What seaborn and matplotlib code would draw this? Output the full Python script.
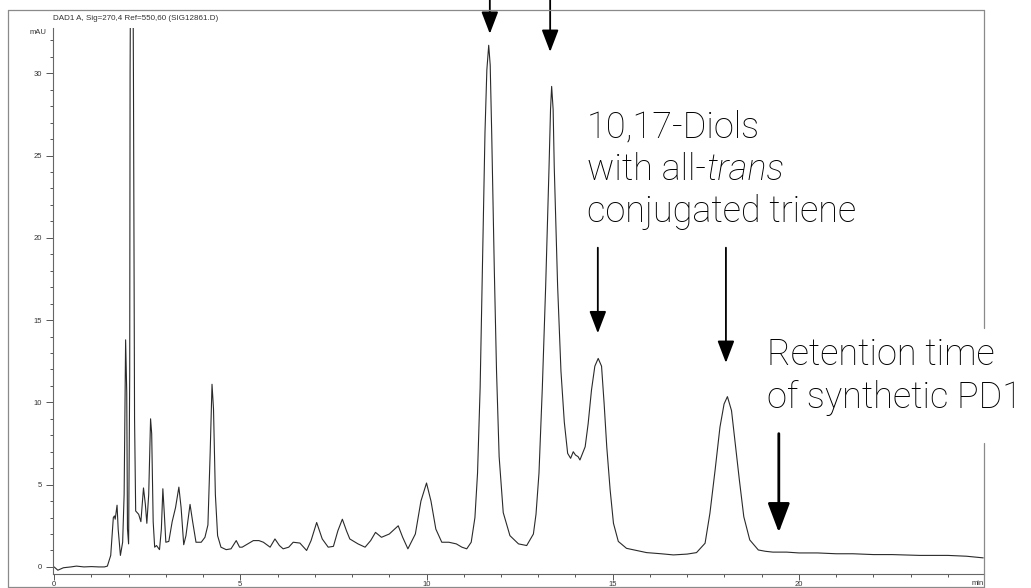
import numpy as np
import pandas as pd
import matplotlib
matplotlib.use("Agg")
import matplotlib.pyplot as plt
from matplotlib.ticker import MultipleLocator
from matplotlib.lines import Line2D
import seaborn as sns

# chromatogram trace (min, mAU)
time_min = [0.00, 0.10, 0.25, 0.45, 0.60, 0.80, 1.00, 1.20, 1.35, 1.43, 1.52, 1.59, 1.62, 1.64, 1.69,
            1.72, 1.78, 1.84, 1.88, 1.92, 1.95, 1.97, 2.00, 2.03, 2.04, 2.06, 2.11, 2.13, 2.16, 2.19,
            2.23, 2.27, 2.33, 2.40, 2.45, 2.49, 2.54, 2.59, 2.62, 2.66, 2.70, 2.75, 2.83, 2.88, 2.92,
            2.96, 3.00, 3.08, 3.17, 3.26, 3.35, 3.41, 3.48, 3.54, 3.65, 3.72, 3.81, 3.95, 4.05, 4.13,
            4.19, 4.24, 4.28, 4.33, 4.39, 4.48, 4.62, 4.75, 4.89, 4.98, 5.05, 5.20, 5.35, 5.50, 5.62,
            5.80, 5.93, 6.05, 6.15, 6.30, 6.42, 6.60, 6.78, 6.90, 7.05, 7.20, 7.36, 7.50, 7.62, 7.74,
            7.85, 7.94, 8.16, 8.35, 8.50, 8.63, 8.79, 9.00, 9.24, 9.36, 9.50, 9.70, 9.85, 10.00, 10.12,
            10.25, 10.41, 10.60, 10.80, 10.95, 11.08, 11.20, 11.30, 11.37, 11.44, 11.50, 11.57, 11.62, 11.67, 11.71,
            11.75, 11.82, 11.88, 11.95, 12.06, 12.24, 12.47, 12.69, 12.87, 12.94, 13.02, 13.11, 13.20, 13.29, 13.33,
            13.36, 13.40, 13.43, 13.52, 13.61, 13.70, 13.79, 13.87, 13.94, 14.00, 14.07, 14.12, 14.26, 14.34, 14.43,
            14.52, 14.61, 14.70, 14.77, 14.84, 14.93, 15.02, 15.15, 15.37, 15.91, 16.30, 16.63, 17.00, 17.25, 17.48,
            17.61, 17.75, 17.88, 17.99, 18.08, 18.19, 18.28, 18.40, 18.52, 18.68, 18.91, 19.10, 19.30, 19.67, 20.00,
            20.50, 21.00, 21.45, 22.00, 22.50, 23.25, 24.00, 24.50, 24.95]
signal_mau = [0.0, -0.2, -0.05, 0.0, 0.05, 0.0, 0.02, 0.0, 0.0, 0.05, 0.7, 3.0, 3.1, 2.9, 3.75,
              2.3, 0.7, 1.5, 4.4, 13.8, 10.6, 2.3, 1.4, 11.7, 30.0, 40.0, 40.0, 30.0, 9.0, 3.4,
              3.3, 3.2, 2.75, 4.8, 3.8, 2.65, 4.4, 9.0, 8.1, 2.75, 1.2, 1.3, 1.05, 2.3, 4.75,
              3.2, 1.5, 1.55, 2.75, 3.6, 4.85, 3.6, 1.35, 1.9, 3.8, 2.75, 1.5, 1.5, 1.8, 2.55,
              6.9, 11.1, 9.6, 4.4, 1.9, 1.2, 1.05, 1.1, 1.6, 1.2, 1.2, 1.4, 1.6, 1.6, 1.5,
              1.2, 1.7, 1.3, 1.1, 1.2, 1.5, 1.45, 1.0, 1.6, 2.7, 1.7, 1.2, 1.25, 2.2, 2.9,
              2.2, 1.7, 1.4, 1.2, 1.6, 2.1, 1.8, 2.0, 2.5, 1.8, 1.1, 2.0, 4.0, 5.1, 4.0,
              2.3, 1.5, 1.5, 1.4, 1.2, 1.1, 1.5, 3.0, 5.7, 10.9, 18.1, 26.4, 30.2, 31.7, 30.5,
              26.4, 18.1, 11.9, 6.7, 3.3, 1.9, 1.4, 1.3, 2.0, 3.2, 5.7, 10.9, 17.1, 24.3, 27.8,
              29.2, 27.8, 24.3, 17.1, 11.9, 8.8, 6.9, 6.6, 7.0, 6.8, 6.7, 6.5, 7.3, 8.7, 10.75,
              12.2, 12.67, 12.2, 9.9, 7.3, 4.7, 2.65, 1.55, 1.13, 0.87, 0.8, 0.73, 0.78, 0.87, 1.44,
              3.26, 5.9, 8.5, 9.9, 10.35, 9.5, 7.7, 5.3, 3.05, 1.64, 1.03, 0.95, 0.9, 0.9, 0.85,
              0.85, 0.8, 0.8, 0.75, 0.75, 0.7, 0.7, 0.65, 0.55]

# arrows: x (min), tip and tail (mAU)
arrow_t = [11.70, 13.32, 14.60, 18.04, 19.46]
arrow_tip = [32.4, 31.3, 14.2, 12.4, 2.1]
arrow_tail = [34.8, 34.8, 19.4, 19.4, 8.1]

x_ticks = [0, 5, 10, 15, 20]
y_ticks = [0, 5, 10, 15, 20, 25, 30]

df = pd.DataFrame({"t": time_min, "mau": signal_mau})

sns.set_style("ticks")
plt.rcParams["font.family"] = ["Liberation Sans", "DejaVu Sans"]

W, H = 1031, 588
fig = plt.figure(figsize=(W / 100, H / 100), dpi=100)
ax = fig.add_axes([53 / W, 14 / H, 931 / W, 546 / H])

sns.lineplot(data=df, x="t", y="mau", ax=ax, color="#2a2a2a", linewidth=0.8, sort=False)

ax.set_xlim(-0.03, 24.97)
ax.set_ylim(-0.43, 32.75)
ax.set_xticks(x_ticks)
ax.set_yticks(y_ticks)
ax.xaxis.set_minor_locator(MultipleLocator(1))
ax.yaxis.set_minor_locator(MultipleLocator(1))
ax.tick_params(axis="both", which="both", direction="out", color="#555555",
               labelsize=5.5, labelcolor="#333333", width=0.7)
ax.tick_params(axis="x", which="major", length=4.5, pad=0.5)
ax.tick_params(axis="x", which="minor", length=2.5)
ax.tick_params(axis="y", which="major", length=5, pad=3)
ax.tick_params(axis="y", which="minor", length=2)
sns.despine(ax=ax, top=True, right=True)
for s in ["left", "bottom"]:
    ax.spines[s].set_color("#666666")
    ax.spines[s].set_linewidth(0.8)

ax.set_xlabel("min", fontsize=5.5, color="#333333", va="center", ha="center")
ax.xaxis.set_label_coords(0.9936, -0.0165)
ax.set_ylabel("mAU", fontsize=5.5, color="#333333", rotation=0, va="center", ha="right")
ax.yaxis.set_label_coords(-0.007, 0.992)
ax.set_title("DAD1 A, Sig=270,4 Ref=550,60 (SIG12861.D)", loc="left", fontsize=5.8,
             color="#333333", pad=6)

# outer frame of the instrument printout (right side broken by the label)
fc = "#8a8a8a"
frame = [((8, 8), (1, 578)), ((8, 984), (578, 578)), ((8, 984), (1, 1)),
         ((984, 984), (578, 260)), ((984, 984), (145, 1))]
for xs, ys in frame:
    fig.add_artist(Line2D([xs[0] / W, xs[1] / W], [ys[0] / H, ys[1] / H],
                          transform=fig.transFigure, color=fc, lw=0.9))

for i, (t, tip, tail) in enumerate(zip(arrow_t, arrow_tip, arrow_tail)):
    big = i == 4
    style = "-|>,head_length=0.9,head_width=0.34" if big else "-|>,head_length=0.68,head_width=0.26"
    ax.annotate("", xy=(t, tip), xytext=(t, tail), annotation_clip=False,
                arrowprops=dict(arrowstyle=style, mutation_scale=20, color="black",
                                lw=2.0 if big else 1.3, shrinkA=0, shrinkB=0))

lbl = dict(fontsize=26, family=["Roboto", "DejaVu Sans"], fontweight="light",
           color="black", va="baseline", ha="left")
ax.text(14.31, 26.1, "10,17-Diols", **lbl)
t2 = ax.text(14.31, 23.5, "with all-", **lbl)
ax.annotate("trans", xy=(1, 0), xycoords=t2, va="bottom", ha="left", fontsize=26,
            family=["Roboto", "DejaVu Sans"], fontweight="light", style="italic", color="black")
ax.text(14.31, 20.95, "conjugated triene", **lbl)
ax.text(19.14, 12.26, "Retention time", **lbl)
ax.text(19.14, 9.65, "of synthetic PD1", **lbl)

fig.savefig("out.png", dpi=100)
